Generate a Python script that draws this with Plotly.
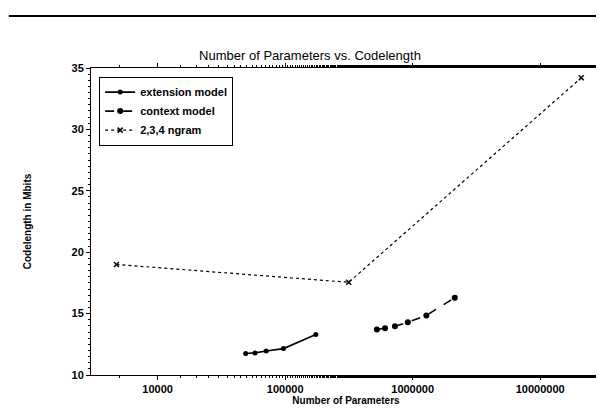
import plotly.graph_objects as go
import numpy as np

ext_x = [49000, 58000, 71000, 97000, 174000]
ext_y = [11.75, 11.8, 11.95, 12.15, 13.3]

ctx_x = [524000, 607000, 726000, 916000, 1280000, 2140000]
ctx_y = [13.7, 13.8, 13.97, 14.3, 14.85, 16.3]

ngram_x = [4750, 315000, 21000000]
ngram_y = [19.0, 17.55, 34.2]

x_ticks = [10000, 100000, 1000000, 10000000]
x_ticktext = ["10000", "100000", "1000000", "10000000"]
y_ticks = [10, 15, 20, 25, 30, 35]

font_family = "Liberation Sans, Arial, sans-serif"

fig = go.Figure()
fig.add_trace(go.Scatter(x=ext_x, y=ext_y, mode="lines+markers", name="extension model",
                         line=dict(color="black", width=1.6, dash="solid"),
                         marker=dict(symbol="circle", size=5, color="black")))
fig.add_trace(go.Scatter(x=ctx_x, y=ctx_y, mode="lines+markers", name="context model",
                         line=dict(color="black", width=1.6, dash="dash"),
                         marker=dict(symbol="circle", size=6, color="black")))
fig.add_trace(go.Scatter(x=ngram_x, y=ngram_y, mode="lines+markers", name="2,3,4 ngram",
                         line=dict(color="black", width=1.2, dash="dot"),
                         marker=dict(symbol="x-thin", size=5, color="black",
                                     line=dict(color="black", width=1.5))))

axis_common = dict(showline=True, linecolor="black", linewidth=1, mirror="ticks",
                   ticks="outside", ticklen=4, tickcolor="black", showgrid=False,
                   zeroline=False, tickfont=dict(size=11, color="black", family=font_family, weight="bold"))

fig.update_xaxes(type="log", range=[np.log10(3000), np.log10(3e7)],
                 tickvals=x_ticks, ticktext=x_ticktext,
                 title=dict(text="Number of Parameters", font=dict(size=10, color="black", family=font_family, weight="bold"), standoff=2),
                 minor=dict(ticks="outside", ticklen=2, tickcolor="black", showgrid=False),
                 **axis_common)
fig.update_yaxes(range=[10, 35], tickvals=y_ticks,
                 title=dict(text="Codelength in Mbits", font=dict(size=10, color="black", family=font_family, weight="bold"), standoff=38),
                 minor=dict(dtick=0.5, ticks="outside", ticklen=2, tickcolor="black", showgrid=False),
                 **axis_common)

fig.add_shape(type="line", xref="paper", yref="paper",
              x0=-83/515, x1=1 + 6/515, y0=(367 - 8) / 307, y1=(367 - 8) / 307,
              line=dict(color="black", width=2))

fig.update_layout(
    width=604, height=409,
    margin=dict(l=83, r=6, t=60, b=42),
    paper_bgcolor="white", plot_bgcolor="white",
    title=dict(text="Number of Parameters vs. Codelength", x=0.5, xanchor="center",
               y=1 - 52 / 409, yanchor="bottom",
               font=dict(size=13, color="black", family=font_family)),
    showlegend=True,
    legend=dict(x=0.016, y=0.972, xanchor="left", yanchor="top",
                bgcolor="white", bordercolor="black", borderwidth=1,
                font=dict(size=11, color="black", family=font_family, weight="bold"),
                tracegroupgap=0, itemwidth=30),
    font=dict(family=font_family, color="black"),
)

fig.write_html("out.html")
